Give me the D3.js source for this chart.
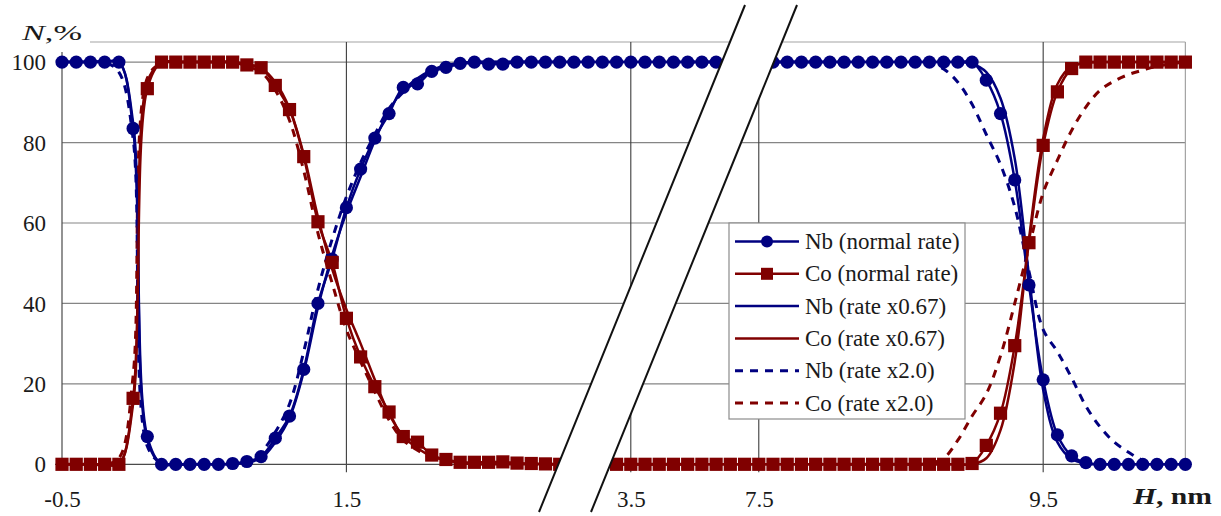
<!DOCTYPE html>
<html>
<head>
<meta charset="utf-8">
<script src="https://cdn.jsdelivr.net/npm/d3@7"></script>
<style>
  html, body { margin: 0; padding: 0; background: #fff; }
  svg { display: block; }
  text { font-family: "Liberation Serif", "Times New Roman", serif; fill: #1a1a1a; }
</style>
</head>
<body>
<svg id="chart" width="1221" height="516"></svg>
<script>
// Depth H (nm); the axis is broken between 4.0 and 7.1 nm
const depth = [
  -0.5, -0.4, -0.3, -0.2, -0.1, 0.0, 0.1, 0.2, 0.3, 0.4,
   0.5,  0.6,  0.7,  0.8,  0.9, 1.0, 1.1, 1.2, 1.3, 1.4,
   1.5,  1.6,  1.7,  1.8,  1.9, 2.0, 2.1, 2.2, 2.3, 2.4,
   2.5,  2.6,  2.7,  2.8,  2.9, 3.0, 3.1, 3.2, 3.3, 3.4,
   3.5,  3.6,  3.7,  3.8,  3.9,
   7.1,  7.2,  7.3,  7.4,  7.5, 7.6, 7.7, 7.8, 7.9, 8.0,
   8.1,  8.2,  8.3,  8.4,  8.5, 8.6, 8.7, 8.8, 8.9, 9.0,
   9.1,  9.2,  9.3,  9.4,  9.5, 9.6, 9.7, 9.8, 9.9, 10.0,
  10.1, 10.2, 10.3, 10.4, 10.5
];

// Concentration N (%), normal deposition rate
const nbNormal = [
  100, 100, 100, 100, 100, 83.5, 6.9, 0, 0, 0,
  0, 0, 0.2, 0.7, 1.9, 6.5, 12, 23.6, 40, 51,
  63.8, 73.4, 81.1, 87.2, 93.7, 94.6, 97.7, 98.7, 99.7, 100,
  99.5, 99.5, 100, 100, 100, 100, 100, 100, 100, 100,
  100, 100, 100, 100, 100,
  100, 100, 100, 100, 100, 100, 100, 100, 100, 100,
  100, 100, 100, 100, 100, 100, 100, 100, 100, 100,
  95.5, 87.2, 70.7, 44.6, 21, 7.3, 2.1, 0.4, 0, 0,
  0, 0, 0, 0, 0
];
const coNormal = [
  0, 0, 0, 0, 0, 16.4, 93.4, 100, 100, 100,
  100, 100, 100, 99.3, 98.6, 94.2, 88.2, 76.5, 60.3, 50.2,
  36.3, 26.7, 19.3, 13, 6.9, 5.5, 2.3, 1.2, 0.5, 0.5,
  0.5, 0.6, 0.3, 0.2, 0.1, 0, 0, 0, 0, 0,
  0, 0, 0, 0, 0,
  0, 0, 0, 0, 0, 0, 0, 0, 0, 0,
  0, 0, 0, 0, 0, 0, 0, 0, 0, 0.2,
  4.7, 12.7, 29.5, 55.1, 79.3, 92.6, 98.4, 100, 100, 100,
  100, 100, 100, 100, 100
];

// Rate x0.67
const nbSlow = [
  100, 100, 100, 100, 100, 85, 6, 0, 0, 0,
  0, 0, 0, 0.5, 1.5, 5.5, 11.5, 23, 39, 52,
  62.5, 71.5, 80.5, 88, 93, 96, 98, 99.2, 99.8, 100,
  100, 100, 100, 100, 100, 100, 100, 100, 100, 100,
  100, 100, 100, 100, 100,
  100, 100, 100, 100, 100, 100, 100, 100, 100, 100,
  100, 100, 100, 100, 100, 100, 100, 100, 100, 99.6,
  97.5, 91, 76, 47, 18.5, 5.5, 1.3, 0.2, 0, 0,
  0, 0, 0, 0, 0
];
const coSlow = [
  0, 0, 0, 0, 0, 15, 95, 100, 100, 100,
  100, 100, 100, 99.5, 98.5, 95, 88.5, 77, 61.5, 48.5,
  38.5, 30, 21, 12.5, 7, 4, 2, 1, 0.4, 0,
  0, 0, 0, 0, 0, 0, 0, 0, 0, 0,
  0, 0, 0, 0, 0,
  0, 0, 0, 0, 0, 0, 0, 0, 0, 0,
  0, 0, 0, 0, 0, 0, 0, 0, 0, 0,
  1.5, 8.5, 25.5, 56, 81, 94.5, 99, 99.8, 100, 100,
  100, 100, 100, 100, 100
];

// Rate x2.0
const nbFast = [
  100, 100, 100, 100, 97.5, 81, 4.5, 0.3, 0, 0,
  0, 0, 0.4, 1.2, 3, 8, 15, 28, 43.5, 56,
  66.5, 75, 82, 88.5, 92.5, 95.5, 97.5, 98.8, 99.5, 100,
  100, 100, 100, 100, 100, 100, 100, 100, 100, 100,
  100, 100, 100, 100, 100,
  100, 100, 100, 100, 100, 100, 100, 100, 100, 100,
  100, 100, 100, 100, 100, 100, 99.8, 98.3, 95, 89.5,
  82, 74.5, 64, 48, 33.5, 28, 21.5, 14.5, 9.3, 5.5,
  3, 1, 0.2, 0, 0
];
const coFast = [
  0, 0, 0, 0, 1.5, 22, 96, 99.8, 100, 100,
  100, 100, 100, 99, 97.5, 93, 85.5, 73, 57.5, 45,
  33.5, 25.5, 18, 11, 6, 3.5, 1.5, 0.6, 0.2, 0,
  0, 0, 0, 0, 0, 0, 0, 0, 0, 0,
  0, 0, 0, 0, 0,
  0, 0, 0, 0, 0, 0, 0, 0, 0, 0,
  0, 0, 0, 0, 0, 0, 0.2, 1.5, 6, 12,
  17.5, 27, 40, 54, 67.5, 75.6, 83, 88.8, 93, 95.3,
  96.9, 98, 99, 99.6, 100
];

const xTicks = [-0.5, 1.5, 3.5, 7.5, 9.5];
const yTicks = [0, 20, 40, 60, 80, 100];
const seriesNames = [
  "Nb (normal rate)", "Co (normal rate)",
  "Nb (rate x0.67)", "Co (rate x0.67)",
  "Nb (rate x2.0)", "Co (rate x2.0)"
];

const NB = "#000080", CO = "#800000";
const series = [
  { name: seriesNames[0], values: nbNormal, color: NB, marker: "circle" },
  { name: seriesNames[1], values: coNormal, color: CO, marker: "square" },
  { name: seriesNames[2], values: nbSlow,   color: NB },
  { name: seriesNames[3], values: coSlow,   color: CO },
  { name: seriesNames[4], values: nbFast,   color: NB, dash: "8,7" },
  { name: seriesNames[5], values: coFast,   color: CO, dash: "8,7" }
];

// Plot frame
const plotLeft = 62, plotBottom = 464.3, plotTop = 42;
const pxPerNm = 142.2;
const cutLeft = 4.0, cutRight = 7.1;
const cutPx = plotLeft + (cutLeft + 0.5) * pxPerNm;

const x = d3.scaleLinear()
  .domain([-0.5, cutLeft, cutRight, 10.5])
  .range([plotLeft, cutPx, cutPx, cutPx + (10.5 - cutRight) * pxPerNm]);
const y = d3.scaleLinear().domain([0, 105]).range([plotBottom, plotTop]);
const plotRight = x(10.5);

const svg = d3.select("#chart");
svg.append("rect").attr("width", 1221).attr("height", 516).attr("fill", "#fff");

// Horizontal gridlines
svg.append("g").selectAll("line").data(yTicks.filter(d => d > 0)).join("line")
  .attr("x1", plotLeft).attr("x2", plotRight)
  .attr("y1", d => y(d)).attr("y2", d => y(d))
  .attr("stroke", "#858585").attr("stroke-width", 1.2);

// Plot border (top and right)
svg.append("line").attr("x1", plotLeft).attr("x2", plotRight)
  .attr("y1", y(105)).attr("y2", y(105))
  .attr("stroke", "#a3a3a3").attr("stroke-width", 1.2);
svg.append("line").attr("x1", plotRight).attr("x2", plotRight)
  .attr("y1", y(105)).attr("y2", y(0))
  .attr("stroke", "#a3a3a3").attr("stroke-width", 1.2);

// Vertical gridlines with tick marks below the axis
svg.append("g").selectAll("line").data(xTicks.slice(1)).join("line")
  .attr("x1", d => x(d)).attr("x2", d => x(d))
  .attr("y1", y(105)).attr("y2", y(0) + 8)
  .attr("stroke", "#3d3d3d").attr("stroke-width", 1.1);

// Axis lines
svg.append("line").attr("x1", plotLeft).attr("x2", plotLeft)
  .attr("y1", y(105)).attr("y2", y(0))
  .attr("stroke", "#4a4a4a").attr("stroke-width", 1.2);
svg.append("line").attr("x1", plotLeft - 7).attr("x2", plotRight)
  .attr("y1", y(0)).attr("y2", y(0))
  .attr("stroke", "#4a4a4a").attr("stroke-width", 1.2);

// Series lines (smoothed)
const line = d3.line()
  .x((d, i) => x(depth[i]))
  .y(d => y(d))
  .curve(d3.curveCatmullRom.alpha(0.5));

const drawOrder = [2, 3, 4, 5, 0, 1];
drawOrder.forEach(k => {
  const s = series[k];
  svg.append("path")
    .attr("d", line(s.values))
    .attr("fill", "none")
    .attr("stroke", s.color)
    .attr("stroke-width", s.dash ? 3 : 2.5)
    .attr("stroke-dasharray", s.dash || null)
    .attr("stroke-linejoin", "round");
});

// Markers for the normal-rate series
series.filter(s => s.marker).forEach(s => {
  const pts = s.values.map((v, i) => [x(depth[i]), y(v)]);
  if (s.marker === "circle") {
    svg.append("g").selectAll("circle").data(pts).join("circle")
      .attr("cx", d => d[0]).attr("cy", d => d[1]).attr("r", 6.6)
      .attr("fill", s.color);
  } else {
    svg.append("g").selectAll("rect").data(pts).join("rect")
      .attr("x", d => d[0] - 6.6).attr("y", d => d[1] - 6.6)
      .attr("width", 13.2).attr("height", 13.2)
      .attr("fill", s.color);
  }
});

// Axis break band
const band = [[539, 512], [745, 5], [797, 5], [591, 512]];
svg.append("polygon")
  .attr("points", band.map(p => p.join(",")).join(" "))
  .attr("fill", "#fff");
svg.append("line").attr("x1", band[0][0]).attr("y1", band[0][1])
  .attr("x2", band[1][0]).attr("y2", band[1][1])
  .attr("stroke", "#111").attr("stroke-width", 2);
svg.append("line").attr("x1", band[3][0]).attr("y1", band[3][1])
  .attr("x2", band[2][0]).attr("y2", band[2][1])
  .attr("stroke", "#111").attr("stroke-width", 2);

// Tick labels
const yAxis = d3.axisLeft(y).tickValues(yTicks).tickSize(0).tickPadding(0)
  .tickFormat(d3.format("d"));
svg.append("g").attr("transform", "translate(46,0)").call(yAxis)
  .call(g => g.select(".domain").remove())
  .call(g => g.selectAll("text")
    .attr("font-family", "Liberation Serif, serif")
    .attr("font-size", 23).attr("fill", "#1a1a1a").attr("dy", "0.33em"));

const xAxis = d3.axisBottom(x).tickValues(xTicks).tickSize(0).tickPadding(0)
  .tickFormat(d => d.toFixed(1));
svg.append("g").attr("transform", "translate(0,507)").call(xAxis)
  .call(g => g.select(".domain").remove())
  .call(g => g.selectAll("text")
    .attr("font-family", "Liberation Serif, serif")
    .attr("font-size", 23).attr("fill", "#1a1a1a").attr("dy", 0));

// Axis titles
svg.append("rect").attr("x", 14).attr("y", 8).attr("width", 76).attr("height", 44).attr("fill", "#fff");
const yTitle = svg.append("text").attr("x", 22).attr("y", 39.5).attr("font-size", 22)
  .attr("textLength", 60).attr("lengthAdjust", "spacingAndGlyphs");
yTitle.append("tspan").attr("font-style", "italic").text("N");
yTitle.append("tspan").text(",%");

const xTitle = svg.append("text").attr("x", 1133).attr("y", 503.5)
  .attr("font-size", 24).attr("font-weight", "bold")
  .attr("textLength", 79).attr("lengthAdjust", "spacingAndGlyphs");
xTitle.append("tspan").attr("font-style", "italic").text("H");
xTitle.append("tspan").text(", nm");

// Legend
const lg = svg.append("g").attr("transform", "translate(729,223)");
lg.append("rect").attr("width", 236).attr("height", 196)
  .attr("fill", "#fff").attr("stroke", "#8c8c8c").attr("stroke-width", 1.2);
series.forEach((s, i) => {
  const cy = 18.5 + i * 32.3;
  const row = lg.append("g").attr("transform", `translate(0,${cy})`);
  row.append("line").attr("x1", 6).attr("x2", 70).attr("y1", 0).attr("y2", 0)
    .attr("stroke", s.color).attr("stroke-width", s.dash ? 3 : 2.5)
    .attr("stroke-dasharray", s.dash || null);
  if (s.marker === "circle") {
    row.append("circle").attr("cx", 38).attr("cy", 0).attr("r", 6).attr("fill", s.color);
  } else if (s.marker === "square") {
    row.append("rect").attr("x", 32).attr("y", -6).attr("width", 12).attr("height", 12).attr("fill", s.color);
  }
  row.append("text").attr("x", 76).attr("y", 0).attr("dy", "0.33em")
    .attr("font-size", 23).text(s.name);
});
</script>
</body>
</html>
